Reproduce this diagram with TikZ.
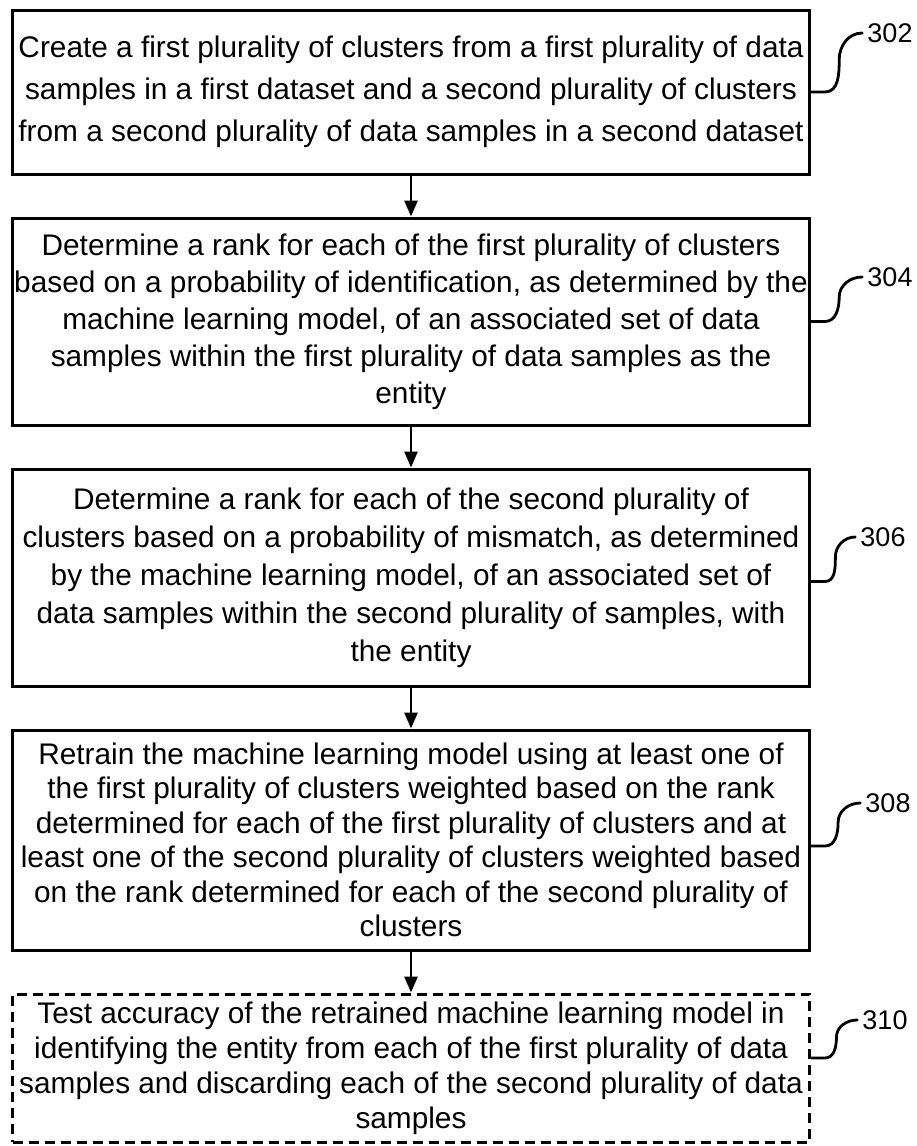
\documentclass[tikz,border=0pt]{standalone}
\usepackage{fontspec}
\setmainfont{Liberation Sans}
\usetikzlibrary{arrows.meta,calc}
\begin{document}
\begin{tikzpicture}[x=1pt,y=-1pt,
  stepbox/.style={draw, line width=3pt, rectangle, minimum width=797pt,
    inner sep=0pt, align=center},
  dashedbox/.style={stepbox, dash pattern=on 10pt off 6pt},
  flow/.style={line width=2.8pt, -{Triangle[length=16pt,width=13pt]}},
  lead/.style={line width=2.8pt, line cap=round},
  refnum/.style={inner sep=3pt, font=\fontsize{27}{30}\selectfont}
]
\useasboundingbox (0,0) rectangle (917,1146);

% process steps
\node[stepbox, minimum height=164pt, font=\fontsize{29.8}{42}\selectfont] (b1) at (411,92)
  {Create a first plurality of clusters from a first plurality of data\\
   samples in a first dataset and a second plurality of clusters\\
   from a second plurality of data samples in a second dataset};
\node[stepbox, minimum height=207pt, font=\fontsize{29.8}{37}\selectfont] (b2) at (411,321.5)
  {Determine a rank for each of the first plurality of clusters\\
   based on a probability of identification, as determined by the\\
   machine learning model, of an associated set of data\\
   samples within the first plurality of data samples as the\\
   entity};
\node[stepbox, minimum height=217pt, font=\fontsize{29.8}{38}\selectfont] (b3) at (411,577.5)
  {Determine a rank for each of the second plurality of\\
   clusters based on a probability of mismatch, as determined\\
   by the machine learning model, of an associated set of\\
   data samples within the second plurality of samples, with\\
   the entity};
\node[stepbox, minimum height=220pt, font=\fontsize{29.8}{34.5}\selectfont] (b4) at (411,840)
  {Retrain the machine learning model using at least one of\\
   the first plurality of clusters weighted based on the rank\\
   determined for each of the first plurality of clusters and at\\
   least one of the second plurality of clusters weighted based\\
   on the rank determined for each of the second plurality of\\
   clusters};
\node[dashedbox, minimum height=148pt, font=\fontsize{29.8}{35}\selectfont] (b5) at (411,1068)
  {Test accuracy of the retrained machine learning model in\\
   identifying the entity from each of the first plurality of data\\
   samples and discarding each of the second plurality of data\\
   samples};

% flow arrows
\draw[flow] (b1) -- (b2);
\draw[flow] (b2) -- (b3);
\draw[flow] (b3) -- (b4);
\draw[flow] (b4) -- (b5);

% reference numerals
\node[refnum] (l302) at (890,33) {302};
\node[refnum] (l304) at (890,277) {304};
\node[refnum] (l306) at (883,537) {306};
\node[refnum] (l308) at (888,803) {308};
\node[refnum] (l310) at (885,1020) {310};

% lead lines from steps to numerals
\foreach \b/\l/\s in {b1/l302/0, b2/l304/0, b3/l306/-4, b4/l308/-6, b5/l310/10} {
  \coordinate (s) at ([yshift=\s pt]\b.east);
  \coordinate (e) at ([xshift=-2pt]\l.west);
  \draw[lead] (s) -- ++(14,0) to[out=0,in=-90] ($(s)!.55!(e)$) to[out=90,in=180] (e);
}
\end{tikzpicture}
\end{document}
